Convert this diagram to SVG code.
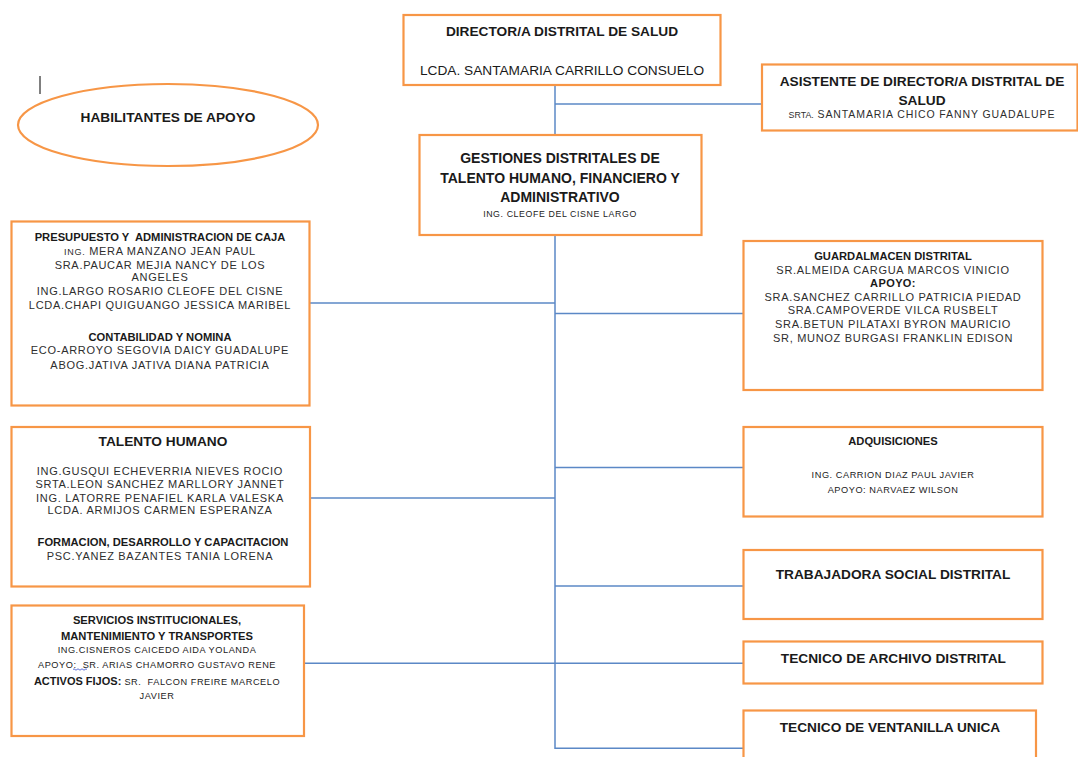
<svg xmlns="http://www.w3.org/2000/svg" width="1078" height="757" viewBox="0 0 1078 757">
  <style>
    .box { fill: #ffffff; stroke: #F79646; stroke-width: 2.2; }
    .conn { fill: none; stroke: #5B88C6; stroke-width: 1.5; }
    text { font-family: "Liberation Sans", Arial, sans-serif; text-anchor: middle; }
    .t1 { font-size: 13.7px; font-weight: bold; fill: #1a1a1a; }
    .t2 { font-size: 11.2px; font-weight: bold; fill: #1a1a1a; }
    .nm { font-size: 11px; letter-spacing: 0.7px; fill: #2e2e2e; }
    .sm { font-size: 9.2px; letter-spacing: 0.55px; fill: #222222; }
    .reg { font-size: 13.7px; fill: #1a1a1a; }
  </style>

  <rect width="1078" height="757" fill="#ffffff"/>

  <!-- connectors -->
  <g id="connectors">
    <path class="conn" d="M555 85 V135"/>
    <path class="conn" d="M555 104 H762"/>
    <path class="conn" d="M555 235 V748.3 H743.5"/>
    <path class="conn" d="M309.5 303 H555"/>
    <path class="conn" d="M555 313.5 H743.5"/>
    <path class="conn" d="M310 498 H555"/>
    <path class="conn" d="M555 467.5 H743.5"/>
    <path class="conn" d="M555 586 H743.5"/>
    <path class="conn" d="M304 663.3 H743.5"/>
  </g>

  <!-- text cursor mark -->
  <line x1="40" y1="76" x2="40" y2="94" stroke="#000" stroke-width="1"/>

  <g id="habilitantes">
    <ellipse class="box" cx="168" cy="125" rx="150" ry="41"/>
    <text class="t1" x="168" y="121.7">HABILITANTES DE APOYO</text>
  </g>

  <g id="director">
    <rect class="box" x="403.5" y="15" width="317" height="70"/>
    <text class="t1" x="562" y="36">DIRECTOR/A DISTRITAL DE SALUD</text>
    <text class="reg" x="562" y="75">LCDA. SANTAMARIA CARRILLO CONSUELO</text>
  </g>

  <g id="asistente">
    <rect class="box" x="762" y="64.5" width="315.5" height="66"/>
    <text class="t1" x="922" y="86">ASISTENTE DE DIRECTOR/A DISTRITAL DE</text>
    <text class="t1" x="922" y="105">SALUD</text>
    <text class="nm" x="922" y="118.3" style="font-size:10.5px;letter-spacing:0.9px"><tspan style="font-size:8.8px;letter-spacing:0">SRTA.</tspan> SANTAMARIA CHICO FANNY GUADALUPE</text>
  </g>

  <g id="gestiones">
    <rect class="box" x="419.5" y="135" width="282" height="100"/>
    <text class="t1" x="560" y="163.3" style="font-size:14px">GESTIONES DISTRITALES DE</text>
    <text class="t1" x="560" y="182.7" style="font-size:14px">TALENTO HUMANO, FINANCIERO Y</text>
    <text class="t1" x="560" y="201.7" style="font-size:14px">ADMINISTRATIVO</text>
    <text class="sm" x="560" y="216.8" style="font-size:8.8px;letter-spacing:0.6px">ING. CLEOFE DEL CISNE LARGO</text>
  </g>

  <g id="presupuesto">
    <rect class="box" x="11.5" y="221.5" width="298" height="184"/>
    <text class="t2" x="160" y="240.7" xml:space="preserve">PRESUPUESTO Y  ADMINISTRACION DE CAJA</text>
    <text class="nm" x="160" y="255"><tspan style="font-size:9px">ING.</tspan> MERA MANZANO JEAN PAUL</text>
    <text class="nm" x="160" y="268.6">SRA.PAUCAR MEJIA NANCY DE LOS</text>
    <text class="nm" x="160" y="281">ANGELES</text>
    <text class="nm" x="160" y="295.3">ING.LARGO ROSARIO CLEOFE DEL CISNE</text>
    <text class="nm" x="160" y="308.6">LCDA.CHAPI QUIGUANGO JESSICA MARIBEL</text>
    <text class="t2" x="160" y="340.7">CONTABILIDAD Y NOMINA</text>
    <text class="nm" x="160" y="354.3">ECO-ARROYO SEGOVIA DAICY GUADALUPE</text>
    <text class="nm" x="160" y="368.6">ABOG.JATIVA JATIVA DIANA PATRICIA</text>
  </g>

  <g id="talento-humano">
    <rect class="box" x="11.5" y="427" width="298.5" height="159.5"/>
    <text class="t1" x="163" y="445.6">TALENTO HUMANO</text>
    <text class="nm" x="160" y="475">ING.GUSQUI ECHEVERRIA NIEVES ROCIO</text>
    <text class="nm" x="160" y="487.6">SRTA.LEON SANCHEZ MARLLORY JANNET</text>
    <text class="nm" x="160" y="501.6">ING. LATORRE PENAFIEL KARLA VALESKA</text>
    <text class="nm" x="160" y="514.3">LCDA. ARMIJOS CARMEN ESPERANZA</text>
    <text class="t2" x="163" y="546.3">FORMACION, DESARROLLO Y CAPACITACION</text>
    <text class="nm" x="160" y="560.3">PSC.YANEZ BAZANTES TANIA LORENA</text>
  </g>

  <g id="servicios">
    <rect class="box" x="11.5" y="605.5" width="292.5" height="130.5"/>
    <text class="t2" x="157" y="624">SERVICIOS INSTITUCIONALES,</text>
    <text class="t2" x="157" y="639.7">MANTENIMIENTO Y TRANSPORTES</text>
    <text class="sm" x="157" y="653">ING.CISNEROS CAICEDO AIDA YOLANDA</text>
    <text class="sm" x="157" y="668" xml:space="preserve">APOYO:  SR. ARIAS CHAMORRO GUSTAVO RENE</text>
    <!-- spelling squiggle under the abbreviation -->
    <path d="M73 669.5 q1 -1.4 2 0 t2 0 t2 0 t2 0 t2 0 t2 0 t2 0" fill="none" stroke="#4a5fd0" stroke-width="0.9"/>
    <text class="sm" x="157" y="685" xml:space="preserve"><tspan class="t2" style="font-size:11px;letter-spacing:0">ACTIVOS FIJOS:</tspan> SR.  FALCON FREIRE MARCELO</text>
    <text class="sm" x="157" y="698.7">JAVIER</text>
  </g>

  <g id="guardalmacen">
    <rect class="box" x="743.5" y="241" width="299" height="149"/>
    <text class="t2" x="893" y="260">GUARDALMACEN DISTRITAL</text>
    <text class="nm" x="893" y="274.3">SR.ALMEIDA CARGUA MARCOS VINICIO</text>
    <text class="nm" x="893" y="287" style="font-weight:bold;fill:#1a1a1a;letter-spacing:0.4px">APOYO:</text>
    <text class="nm" x="893" y="301">SRA.SANCHEZ CARRILLO PATRICIA PIEDAD</text>
    <text class="nm" x="893" y="314.3">SRA.CAMPOVERDE VILCA RUSBELT</text>
    <text class="nm" x="893" y="327.6">SRA.BETUN PILATAXI BYRON MAURICIO</text>
    <text class="nm" x="893" y="341.6">SR, MUNOZ BURGASI FRANKLIN EDISON</text>
  </g>

  <g id="adquisiciones">
    <rect class="box" x="743.5" y="427" width="299" height="89.5"/>
    <text class="t2" x="893" y="445">ADQUISICIONES</text>
    <text class="sm" x="893" y="478">ING. CARRION DIAZ PAUL JAVIER</text>
    <text class="sm" x="893" y="493">APOYO: NARVAEZ WILSON</text>
  </g>

  <g id="trabajadora-social">
    <rect class="box" x="743.5" y="550" width="299" height="69"/>
    <text class="t1" x="893" y="579">TRABAJADORA SOCIAL DISTRITAL</text>
  </g>

  <g id="tecnico-archivo">
    <rect class="box" x="743.5" y="641.5" width="299" height="42"/>
    <text class="t1" x="893.4" y="663.3">TECNICO DE ARCHIVO DISTRITAL</text>
  </g>

  <g id="tecnico-ventanilla">
    <rect class="box" x="743.5" y="710.5" width="292.5" height="60"/>
    <text class="t1" x="890" y="731.7">TECNICO DE VENTANILLA UNICA</text>
  </g>
</svg>
